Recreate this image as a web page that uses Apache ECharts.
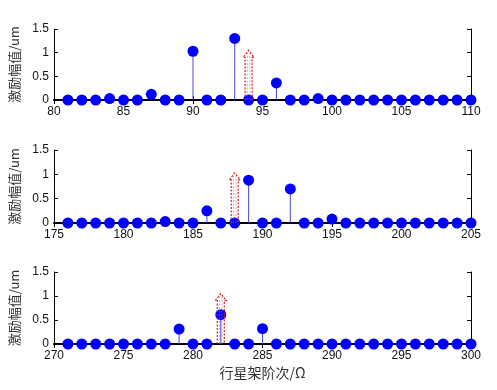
<!DOCTYPE html>
<html><head><meta charset="utf-8">
<script src="https://cdn.jsdelivr.net/npm/echarts@6/dist/echarts.min.js"></script>
<style>html,body{margin:0;padding:0;background:#fff}#c{width:497px;height:390px}</style>
</head><body><div id="c"></div>
<script>
// Panel 1
const orders1 = [81,82,83,84,85,86,87,88,89,90,91,92,93,94,95,96,97,98,99,100,101,102,103,104,105,106,107,108,109,110];
const amps1   = [0,0,0,0.03,0,0,0.12,0,0,1.03,0,0,1.3,0,0,0.36,0,0,0.03,0,0,0,0,0,0,0,0,0,0,0];
// Panel 2
const orders2 = [176,177,178,179,180,181,182,183,184,185,186,187,188,189,190,191,192,193,194,195,196,197,198,199,200,201,202,203,204,205];
const amps2   = [0,0,0,0,0,0,0,0.03,0,0,0.25,0,0,0.88,0,0,0.7,0,0,0.08,0,0,0,0,0,0,0,0,0,0];
// Panel 3
const orders3 = [271,272,273,274,275,276,277,278,279,280,281,282,283,284,285,286,287,288,289,290,291,292,293,294,295,296,297,298,299,300];
const amps3   = [0,0,0,0,0,0,0,0,0.31,0,0,0.61,0,0,0.32,0,0,0,0,0,0,0,0,0,0,0,0,0,0,0];
// Red dashed arrows (order, tip height)
const arrowOrders = [94, 188, 282];
const arrowTops   = [1.05, 1.03, 1.05];
// Axis ranges / ticks
const xMins = [80, 175, 270];
const xMaxs = [110, 205, 300];
const xStep = 5;
const yMin = 0, yMax = 1.5, yStep = 0.5;
const yAxisTitle = '激励幅值/um';
const xAxisTitle = '行星架阶次/Ω';

const orders = [orders1, orders2, orders3];
const amps = [amps1, amps2, amps3];
const gridTops = [29, 150, 272];
const gridHeights = [71, 73, 72];

const tickFont = {fontFamily: '"Liberation Sans", Arial, sans-serif', fontSize: 12, color: '#111'};
const grids = [], xAxes = [], yAxes = [], series = [];
for (let i = 0; i < 3; i++) {
  grids.push({left: 52, right: 26, top: gridTops[i], height: gridHeights[i], containLabel: false});
  xAxes.push({
    type: 'value', gridIndex: i, min: xMins[i], max: xMaxs[i], interval: xStep, position: 'bottom',
    axisLine: {show: true, lineStyle: {color: '#000', width: 2}},
    axisTick: {show: true, inside: true, length: 4, lineStyle: {color: '#000'}},
    axisLabel: Object.assign({margin: 6}, tickFont),
    splitLine: {show: false},
    name: i === 2 ? xAxisTitle : '', nameLocation: 'middle', nameGap: 22,
    nameTextStyle: {fontFamily: '"Noto Sans CJK SC", sans-serif', fontSize: 14, color: '#333'}
  });
  xAxes.push({
    type: 'value', gridIndex: i, min: xMins[i], max: xMaxs[i], interval: xStep, position: 'top',
    axisLine: {show: true, lineStyle: {color: '#000', width: 1}},
    axisTick: {show: true, inside: true, length: 4, lineStyle: {color: '#000'}},
    axisLabel: {show: false}, splitLine: {show: false}
  });
  yAxes.push({
    type: 'value', gridIndex: i, min: yMin, max: yMax, interval: yStep, position: 'left',
    axisLine: {show: true, lineStyle: {color: '#000', width: 1}},
    axisTick: {show: true, inside: true, length: 4, lineStyle: {color: '#000'}},
    axisLabel: Object.assign({margin: 5}, tickFont),
    splitLine: {show: false},
    name: yAxisTitle, nameLocation: 'middle', nameGap: 33, nameRotate: 90,
    nameTextStyle: {fontFamily: '"Noto Sans CJK SC", sans-serif', fontSize: 13, color: '#333'}
  });
  yAxes.push({
    type: 'value', gridIndex: i, min: yMin, max: yMax, interval: yStep, position: 'right',
    axisLine: {show: true, lineStyle: {color: '#000', width: 1}},
    axisTick: {show: true, inside: true, length: 4, lineStyle: {color: '#000'}},
    axisLabel: {show: false}, splitLine: {show: false}
  });
  const data = orders[i].map((o, k) => [o, amps[i][k]]);
  series.push({
    type: 'custom', xAxisIndex: 2 * i, yAxisIndex: 2 * i, z: 2, data: data, silent: true,
    renderItem: function (params, api) {
      const p0 = api.coord([api.value(0), 0]);
      const p1 = api.coord([api.value(0), api.value(1)]);
      return {type: 'line', shape: {x1: p0[0], y1: p0[1], x2: p1[0], y2: p1[1]},
              style: {stroke: '#4a4ad8', lineWidth: 1}};
    }
  });
  series.push({
    type: 'scatter', xAxisIndex: 2 * i, yAxisIndex: 2 * i, z: 3, data: data, silent: true,
    symbol: 'circle', symbolSize: 11, itemStyle: {color: '#0000ff', opacity: 1}
  });
  series.push({
    type: 'custom', xAxisIndex: 2 * i, yAxisIndex: 2 * i, z: 4, silent: true,
    data: [[arrowOrders[i], arrowTops[i]]],
    renderItem: function (params, api) {
      const b = api.coord([api.value(0), 0]);
      const t = api.coord([api.value(0), api.value(1)]);
      const x = b[0], hw = 3.5, hh = 5.5, headH = 7;
      const pts = [[x - hw, b[1]], [x - hw, t[1] + headH], [x - hh, t[1] + headH], [x, t[1]],
                   [x + hh, t[1] + headH], [x + hw, t[1] + headH], [x + hw, b[1]]];
      return {type: 'group', children: [
        {type: 'polyline', shape: {points: pts}, style: {stroke: '#d42020', fill: null, lineWidth: 1.2, lineDash: [2, 1.5]}},
        {type: 'line', shape: {x1: x - 1.2, y1: b[1], x2: x - 1.2, y2: t[1] + 3}, style: {stroke: '#e06060', lineWidth: 0.8, lineDash: [2, 1.5], opacity: 0.7}},
        {type: 'line', shape: {x1: x + 1.2, y1: b[1], x2: x + 1.2, y2: t[1] + 3}, style: {stroke: '#e06060', lineWidth: 0.8, lineDash: [2, 1.5], opacity: 0.7}}
      ]};
    }
  });
}

const chart = echarts.init(document.getElementById('c'), null, {renderer: 'canvas'});
chart.setOption({
  animation: false, backgroundColor: '#fff',
  grid: grids, xAxis: xAxes, yAxis: yAxes, series: series
});
</script>
</body></html>
